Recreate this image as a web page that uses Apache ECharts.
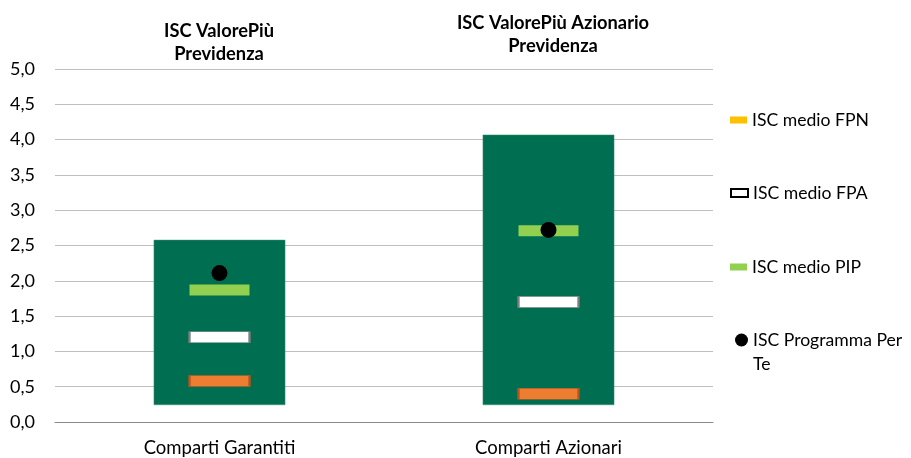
<!DOCTYPE html>
<html>
<head>
<meta charset="utf-8">
<script src="https://cdn.jsdelivr.net/npm/echarts@6/dist/echarts.min.js"></script>
<style>html,body{margin:0;padding:0;background:#fff}#c{width:911px;height:458px}</style>
</head>
<body>
<div id="c"></div>
<script>
// ---- data ----
const categories = ['Comparti Garantiti', 'Comparti Azionari'];
const groupTitles = ['ISC ValorePiù\nPrevidenza', 'ISC ValorePiù Azionario\nPrevidenza'];
const rangeMin = [0.24, 0.24];
const rangeMax = [2.58, 4.07];
const iscFPN = [0.58, 0.40];
const iscFPA = [1.20, 1.70];
const iscPIP = [1.87, 2.71];
const iscPerTe = [2.11, 2.72];
const yTicks = { min: 0, max: 5, interval: 0.5 };

const FONT = 'Lato, "Liberation Sans", sans-serif';
const chart = echarts.init(document.getElementById('c'), null, { renderer: 'canvas' });

const markerSize = [60, 11];
const legendBase = {
  orient: 'vertical', left: 730, padding: 0, selectedMode: false,
  itemWidth: 17, itemHeight: 7, itemGap: 5,
  textStyle: { fontFamily: FONT, fontSize: 17.6, color: '#000', lineHeight: 20 }
};
const titleStyle = { fontFamily: FONT, fontSize: 18.3, fontWeight: 'bold', color: '#000', lineHeight: 23 };

chart.setOption({
  animation: false,
  title: [
    { text: groupTitles[0], left: 219, top: 20, padding: 0, textAlign: 'center', textStyle: titleStyle },
    { text: groupTitles[1], left: 553, top: 12, padding: 0, textAlign: 'center', textStyle: titleStyle }
  ],
  legend: [
    Object.assign({}, legendBase, { top: 110, data: ['ISC medio FPN'] }),
    Object.assign({}, legendBase, { top: 183, data: ['ISC medio FPA'], itemHeight: 8,
      itemStyle: { color: '#fff', borderColor: '#000', borderWidth: 2 } }),
    Object.assign({}, legendBase, { top: 257, data: ['ISC medio PIP'] }),
    Object.assign({}, legendBase, { top: 304, left: 735, itemWidth: 13, itemHeight: 13, itemGap: 4,
      data: [{ name: 'ISC Programma Per Te', icon: 'circle' }],
      formatter: function (n) { return '\n' + n.replace('Per Te', 'Per\nTe'); },
      textStyle: { fontFamily: FONT, fontSize: 17.6, color: '#000', lineHeight: 24 } })
  ],
  grid: { left: 55, right: 198, top: 69, bottom: 36 },
  xAxis: {
    type: 'category', data: categories,
    axisTick: { show: false },
    axisLine: { lineStyle: { color: '#898989', width: 1 } },
    axisLabel: { fontFamily: FONT, fontSize: 18.5, color: '#000', margin: 17 }
  },
  yAxis: {
    type: 'value', min: yTicks.min, max: yTicks.max, interval: yTicks.interval,
    axisLine: { show: false }, axisTick: { show: false },
    splitLine: { lineStyle: { color: '#BFBFBF', width: 1 } },
    axisLabel: { fontFamily: FONT, fontSize: 18, color: '#000', margin: 20,
      formatter: function (v) { return v.toFixed(1).replace('.', ','); } }
  },
  series: [
    { name: 'base', type: 'bar', stack: 'r', barWidth: '40%', data: rangeMin,
      itemStyle: { color: 'transparent' }, silent: true },
    { name: 'range', type: 'bar', stack: 'r', barWidth: '40%',
      data: rangeMax.map((v, i) => +(v - rangeMin[i]).toFixed(2)),
      itemStyle: { color: '#006F51', borderColor: '#3f8f74', borderWidth: 0.5 } },
    { name: 'ISC medio FPN', type: 'scatter', symbol: 'rect', symbolSize: markerSize,
      itemStyle: { color: '#FFC000', opacity: 1 },
      data: iscFPN.map(v => ({ value: v, itemStyle: { color: '#ED7D31', borderColor: '#B5561C', borderWidth: 1, opacity: 1 } })) },
    { name: 'ISC medio FPA', type: 'scatter', symbol: 'rect', symbolSize: markerSize,
      itemStyle: { color: '#fff', borderColor: '#7F7F7F', borderWidth: 1, opacity: 1 }, data: iscFPA },
    { name: 'ISC medio PIP', type: 'scatter', symbol: 'rect', symbolSize: markerSize,
      itemStyle: { color: '#92D050', opacity: 1 }, data: iscPIP },
    { name: 'ISC Programma Per Te', type: 'scatter', symbol: 'circle', symbolSize: 16,
      itemStyle: { color: '#000', opacity: 1 }, data: iscPerTe }
  ]
});
</script>
</body>
</html>
